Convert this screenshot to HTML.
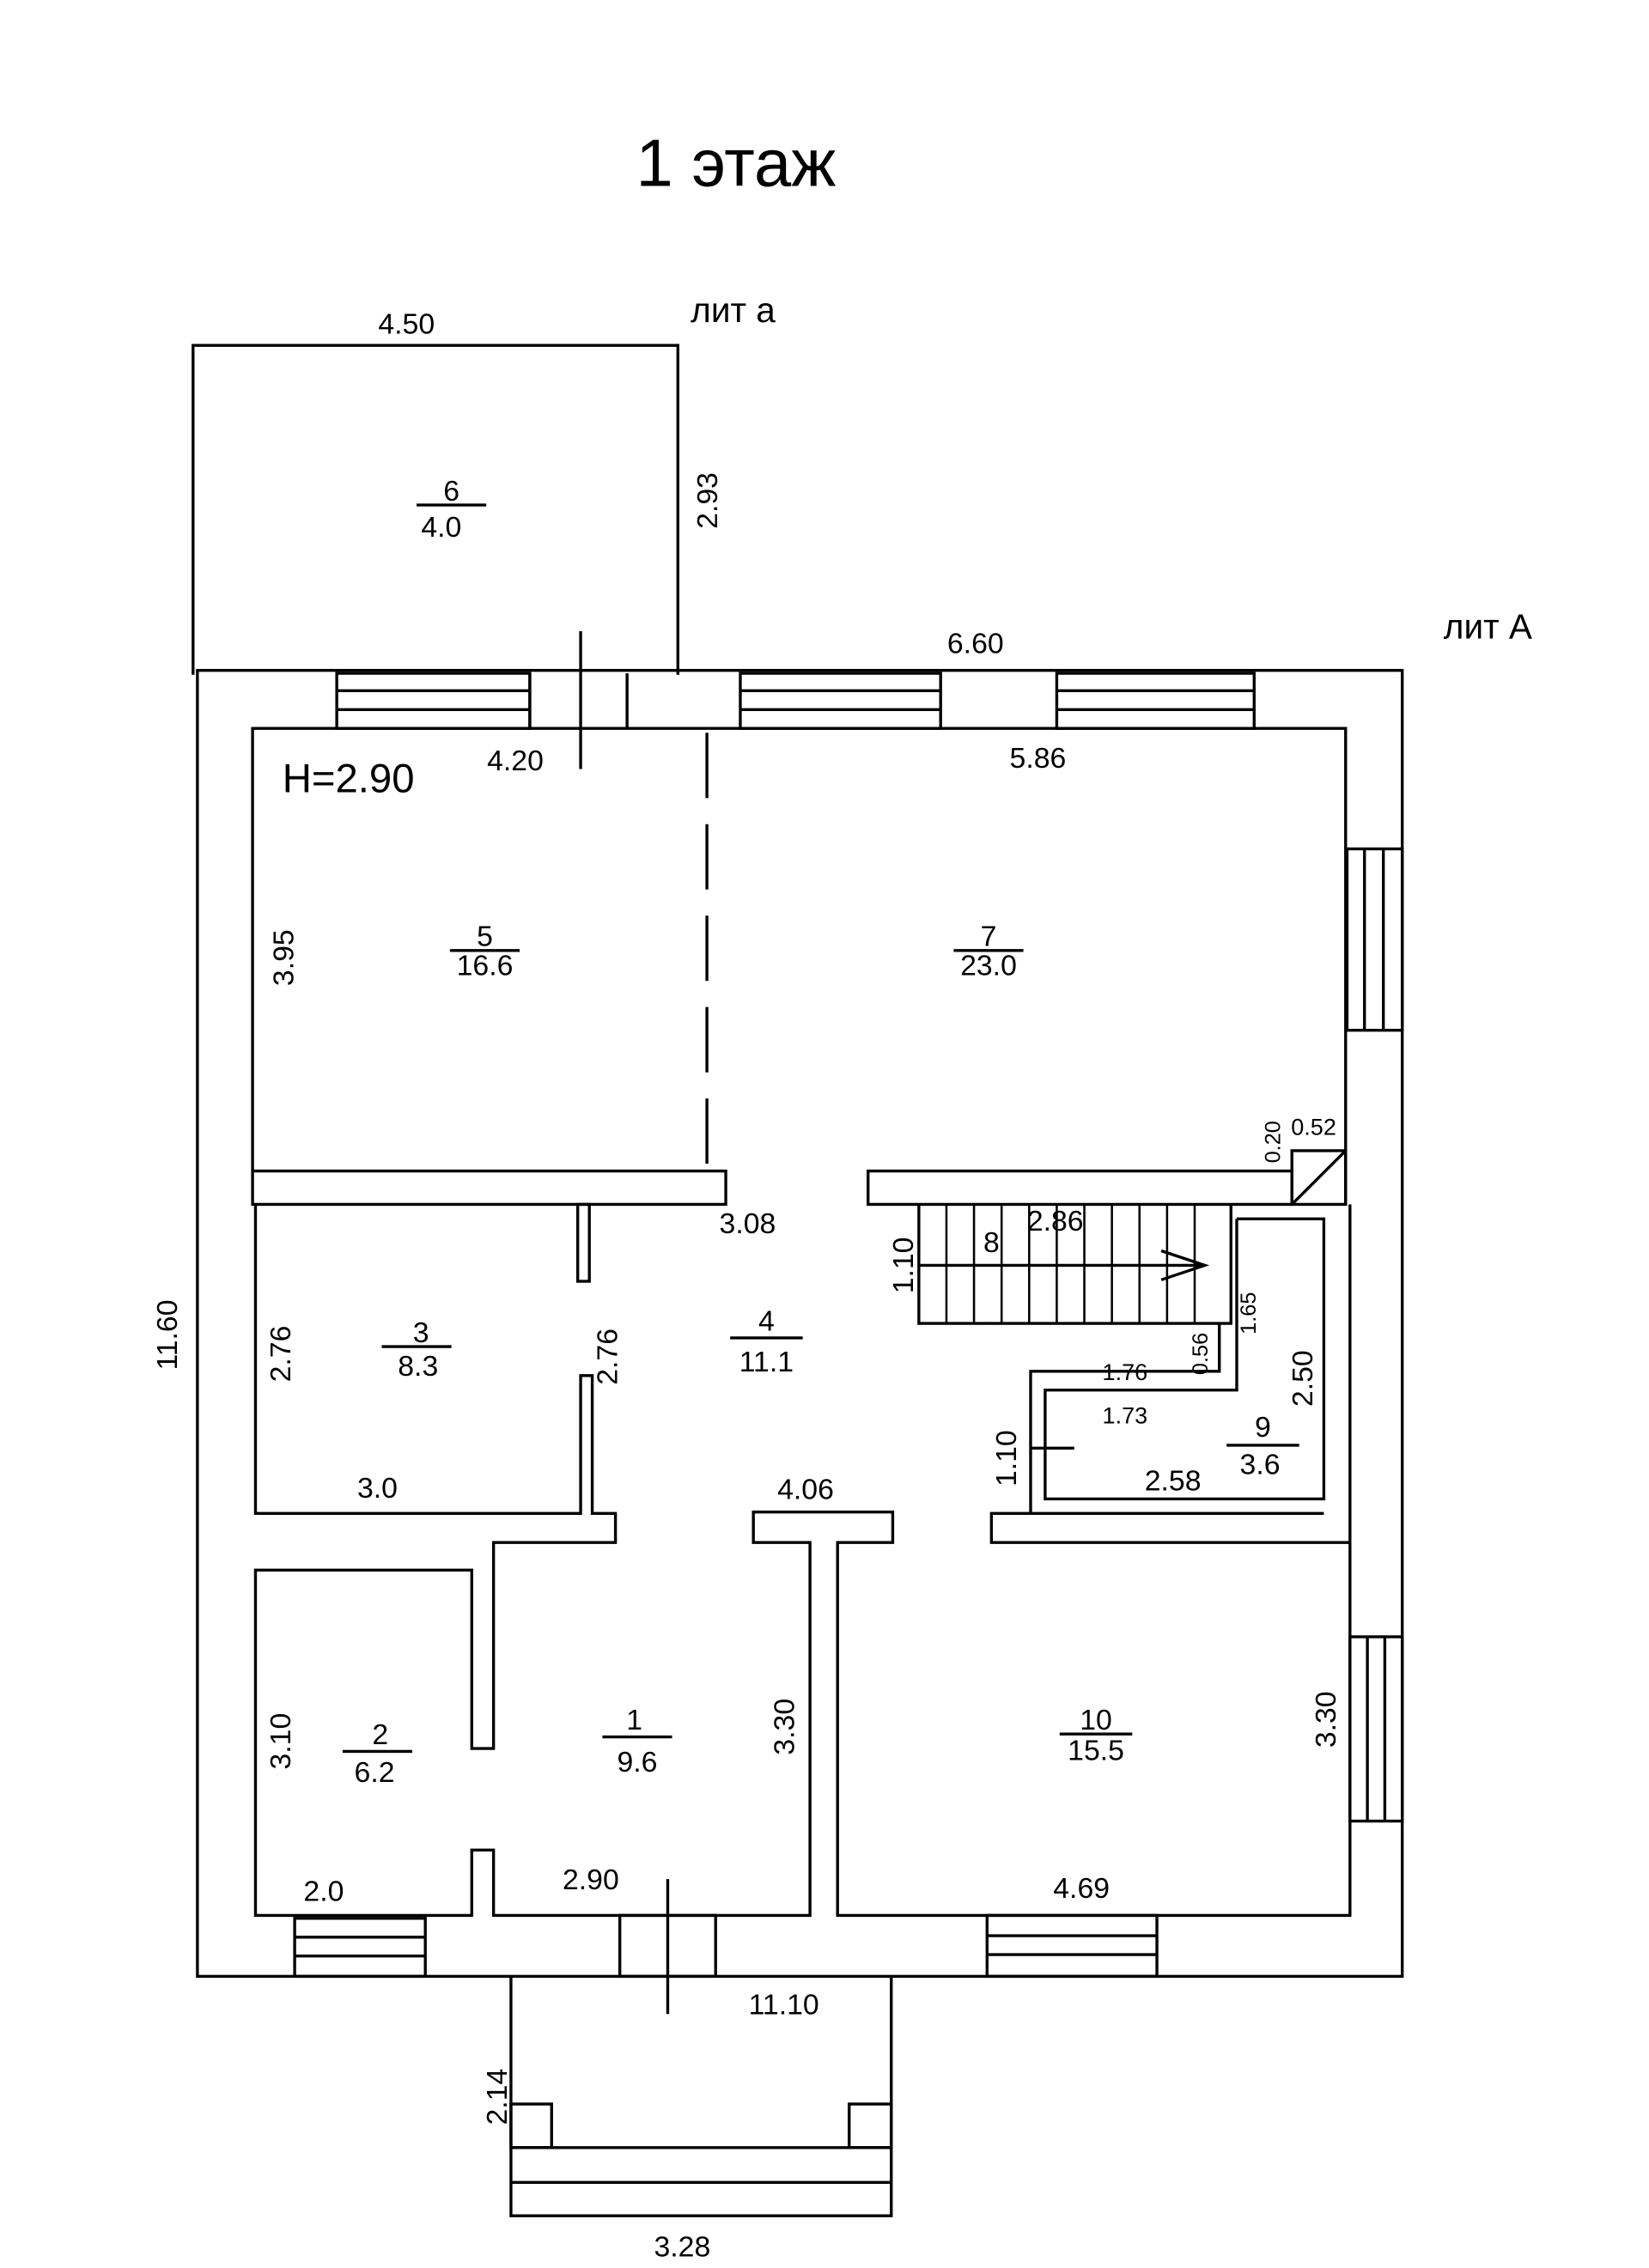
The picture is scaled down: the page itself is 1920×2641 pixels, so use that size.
<!DOCTYPE html>
<html><head><meta charset="utf-8"><style>
html,body{margin:0;padding:0;background:#fff;width:1920px;height:2641px;overflow:hidden}
svg{display:block}
text{font-family:"Liberation Sans",sans-serif;fill:#000}
</style></head><body>
<svg width="1920" height="2641" viewBox="0 0 1136 1563" preserveAspectRatio="none">
<g fill="none" stroke="#000" stroke-width="2">
<!-- lit a -->
<polyline points="133,465 133,238 467,238 467,465"/>
<!-- outer main -->
<rect x="136" y="462" width="830" height="900"/>
<!-- inner upper rooms 5/7 -->
<polyline points="174,807 174,502 927,502 927,830"/>
<!-- top windows -->
<rect x="232" y="464" width="133" height="38"/><line x1="232" y1="476" x2="365" y2="476"/><line x1="232" y1="489" x2="365" y2="489"/>
<line x1="365" y1="464" x2="365" y2="502"/><line x1="432" y1="464" x2="432" y2="502"/>
<rect x="510" y="464" width="138" height="38"/><line x1="510" y1="476" x2="648" y2="476"/><line x1="510" y1="489" x2="648" y2="489"/>
<rect x="728" y="464" width="136" height="38"/><line x1="728" y1="476" x2="864" y2="476"/><line x1="728" y1="489" x2="864" y2="489"/>
<line x1="400" y1="435" x2="400" y2="530"/>
<line x1="487" y1="505" x2="487" y2="805" stroke-dasharray="45,18"/>
<!-- right windows -->
<rect x="928" y="585" width="38" height="125"/><line x1="940" y1="585" x2="940" y2="710"/><line x1="953" y1="585" x2="953" y2="710"/>
<rect x="930" y="1128" width="36" height="127"/><line x1="942" y1="1128" x2="942" y2="1255"/><line x1="954" y1="1128" x2="954" y2="1255"/>
<!-- wall 5/3 -->
<rect x="174" y="807" width="326" height="23"/>
<rect x="598" y="807" width="292" height="23"/>
<rect x="890" y="793" width="37" height="37"/><line x1="890" y1="830" x2="927" y2="793"/>
<!-- room 3 -->
<polyline points="176,830 176,1043 400,1043 400,948 408,948 408,1043 424,1043 424,1063 340,1063 340,1205 325,1205 325,1082 176,1082 176,1320 325,1320 325,1275 340,1275 340,1320 558,1320 558,1063 519,1063 519,1042 615,1042 615,1063 577,1063 577,1320 930,1320 930,1063 683,1063 683,1043 912,1043"/>
<rect x="398" y="830" width="8" height="53"/>
<!-- right wall column between stairs and 10 -->
<polyline points="930,830 930,1063"/>
<!-- room 9 -->
<polyline points="852,840 912,840 912,1033 720,1033 720,958 852,958 852,840"/>
<polyline points="840,912 840,945 710,945 710,1043"/>
<line x1="710" y1="998" x2="740" y2="998"/>
<!-- stairs -->
<polyline points="633,830 633,912 848,912 848,830"/>
<line x1="633" y1="872" x2="830" y2="872"/>
<polyline points="800,862 830,872 800,882"/>
<!-- bottom windows -->
<rect x="203" y="1322" width="90" height="40"/><line x1="203" y1="1335" x2="293" y2="1335"/><line x1="203" y1="1348" x2="293" y2="1348"/>
<rect x="427" y="1320" width="66" height="42"/>
<rect x="680" y="1320" width="117" height="42"/><line x1="680" y1="1334" x2="797" y2="1334"/><line x1="680" y1="1347" x2="797" y2="1347"/>
<line x1="460" y1="1295" x2="460" y2="1388"/>
<!-- porch -->
<polyline points="352,1362 352,1527 614,1527 614,1362"/>
<rect x="352" y="1450" width="28" height="30"/><rect x="585" y="1450" width="29" height="30"/>
<line x1="352" y1="1480" x2="614" y2="1480"/><line x1="352" y1="1504" x2="614" y2="1504"/>
<!-- fraction lines -->
<line x1="287" y1="348" x2="335" y2="348"/>
<line x1="310" y1="655" x2="358" y2="655"/>
<line x1="657" y1="655" x2="705" y2="655"/>
<line x1="263" y1="928" x2="311" y2="928"/>
<line x1="503" y1="922" x2="553" y2="922"/>
<line x1="236" y1="1207" x2="284" y2="1207"/>
<line x1="415" y1="1197" x2="463" y2="1197"/>
<line x1="730" y1="1195" x2="780" y2="1195"/>
<line x1="845" y1="996" x2="895" y2="996"/>
</g>
<g font-size="20" text-anchor="middle">
<text x="507" y="128" font-size="46">1 этаж</text>
<text x="280" y="230">4.50</text>
<text x="505" y="222" font-size="24">лит а</text>
<text x="1025" y="440" font-size="24">лит А</text>
<text x="672" y="450">6.60</text>
<text x="240" y="546" font-size="28">H=2.90</text>
<text x="355" y="531">4.20</text>
<text x="715" y="529">5.86</text>
<text x="311" y="345">6</text><text x="304" y="370">4.0</text>
<text x="334" y="652">5</text><text x="334" y="672">16.6</text>
<text x="681" y="652">7</text><text x="681" y="672">23.0</text>
<text x="515" y="850">3.08</text>
<text x="290" y="925">3</text><text x="288" y="948">8.3</text>
<text x="528" y="917">4</text><text x="528" y="945">11.1</text>
<text x="260" y="1032">3.0</text>
<text x="555" y="1033">4.06</text>
<text x="262" y="1202">2</text><text x="258" y="1228">6.2</text>
<text x="437" y="1192">1</text><text x="439" y="1221">9.6</text>
<text x="755" y="1192">10</text><text x="755" y="1213">15.5</text>
<text x="223" y="1310">2.0</text>
<text x="407" y="1302">2.90</text>
<text x="745" y="1308">4.69</text>
<text x="540" y="1388">11.10</text>
<text x="470" y="1555">3.28</text>
<text x="683" y="863">8</text>
<text x="727" y="848">2.86</text>
<text x="775" y="951" font-size="16">1.76</text>
<text x="775" y="981" font-size="16">1.73</text>
<text x="870" y="990">9</text><text x="868" y="1016">3.6</text>
<text x="808" y="1027">2.58</text>
<text x="905" y="782" font-size="16">0.52</text>
</g>
<g font-size="20" text-anchor="middle">
<text transform="translate(494,345) rotate(-90)">2.93</text>
<text transform="translate(202,660) rotate(-90)">3.95</text>
<text transform="translate(200,933) rotate(-90)">2.76</text>
<text transform="translate(425,935) rotate(-90)">2.76</text>
<text transform="translate(122,920) rotate(-90)">11.60</text>
<text transform="translate(200,1200) rotate(-90)">3.10</text>
<text transform="translate(547,1190) rotate(-90)">3.30</text>
<text transform="translate(920,1185) rotate(-90)">3.30</text>
<text transform="translate(629,872) rotate(-90)">1.10</text>
<text transform="translate(700,1005) rotate(-90)">1.10</text>
<text transform="translate(904,950) rotate(-90)">2.50</text>
<text transform="translate(349,1445) rotate(-90)">2.14</text>
<text transform="translate(832,933) rotate(-90)" font-size="15">0.56</text>
<text transform="translate(865,905) rotate(-90)" font-size="15">1.65</text>
<text transform="translate(882,787) rotate(-90)" font-size="15">0.20</text>
</g>
<g stroke="#000" stroke-width="1.5">
<line x1="652" y1="830" x2="652" y2="912"/><line x1="671" y1="830" x2="671" y2="912"/><line x1="690" y1="830" x2="690" y2="912"/><line x1="709" y1="830" x2="709" y2="912"/><line x1="728" y1="830" x2="728" y2="912"/><line x1="747" y1="830" x2="747" y2="912"/><line x1="766" y1="830" x2="766" y2="912"/><line x1="785" y1="830" x2="785" y2="912"/><line x1="804" y1="830" x2="804" y2="912"/><line x1="823" y1="830" x2="823" y2="912"/>
</g>
</svg>
</body></html>
